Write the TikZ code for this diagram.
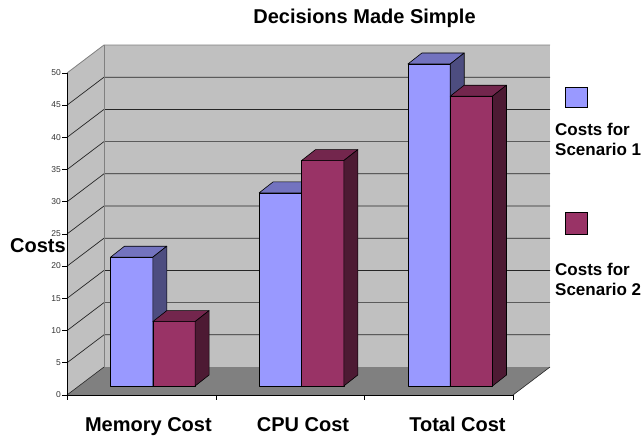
\documentclass[tikz,border=0pt]{standalone}
\usepackage{fontspec}
\setmainfont{Liberation Sans}

\definecolor{wallgray}{HTML}{C0C0C0}
\definecolor{floorgray}{HTML}{808080}
\definecolor{edgegray}{HTML}{808080}
\definecolor{gridcol}{HTML}{262626}
\definecolor{sAfront}{HTML}{9999FF}
\definecolor{sAtop}{HTML}{7373BF}
\definecolor{sAside}{HTML}{4D4D80}
\definecolor{sBfront}{HTML}{993366}
\definecolor{sBtop}{HTML}{73264D}
\definecolor{sBside}{HTML}{4D1A33}

% one 3-D column: #1 left x of front face, #2 value, #3 colour prefix
\newcommand\cubebar[3]{%
  \pgfmathsetmacro\bl{#1}%
  \pgfmathsetmacro\br{#1+42.3}%
  \pgfmathsetmacro\bt{386-#2*6.44}%
  \filldraw[barline, fill=#3front] (\bl,386) rectangle (\br,\bt);
  \filldraw[barline, fill=#3top] (\bl,\bt) -- ++(14,-11) -- ++(42.3,0) -- (\br,\bt) -- cycle;
  \filldraw[barline, fill=#3side] (\br,\bt) -- ++(14,-11) -- (\br+14,375) -- (\br,386) -- cycle;
}

\begin{document}
\begin{tikzpicture}[x=1pt, y=-1pt,
    barline/.style={draw=black, line width=0.6pt, line join=round},
    gridline/.style={draw=gridcol, line width=0.7pt},
    axisline/.style={draw=black, line width=0.8pt},
    ticklab/.style={font=\fontsize{8.5}{10}\selectfont, text=black!80, anchor=mid east, inner sep=0pt},
    catlab/.style={font=\fontsize{20}{24}\selectfont\bfseries, anchor=base, inner sep=0pt},
    leglab/.style={font=\fontsize{17}{20}\selectfont\bfseries, anchor=base west, inner sep=0pt},
    legkey/.style={draw=black, line width=0.6pt}]
\useasboundingbox (0,0) rectangle (642,436);

% title
\node[catlab] (title) at (364.5,24) {Decisions Made Simple};

% walls and floor
\fill[wallgray] (67,73) -- (104,45) -- (104,367) -- (67,395) -- cycle;
\fill[wallgray] (104,45) rectangle (550,367);
\fill[floorgray] (67,395) -- (104,367) -- (550,367) -- (513,395) -- cycle;

% gridlines on side wall and back wall
\foreach \v in {5,10,...,45}{
  \draw[gridline] (67,{395-\v*6.44}) -- ++(37,-28) -- (550,{367-\v*6.44});
}
\draw[edgegray, line width=0.8pt] (67,73) -- (104,45) -- (550,45);
\draw[edgegray, line width=0.8pt] (104,45) -- (104,367);
\draw[gridcol, line width=0.6pt] (67,395) -- (104,367);
\draw[gridcol, line width=0.6pt] (513,395) -- (550,367);

% value axis with ticks and labels
\draw[axisline] (67,73) -- (67,400);
\foreach \v in {0,5,...,50}{
  \draw[axisline] (62,{395-\v*6.44}) -- (67,{395-\v*6.44});
  \node[ticklab] (tick\v) at (61,{395-\v*6.44}) {\v};
}
% category axis
\draw[axisline] (67,395) -- (513,395);
\foreach \x in {216.7,364.3,513}{
  \draw[axisline] (\x,395) -- (\x,400);
}

% columns
\foreach \i/\a/\b in {0/20/10, 1/30/35, 2/50/45}{
  \pgfmathsetmacro\cx{110.5+\i*148.7}
  \cubebar{\cx}{\a}{sA}
  \cubebar{\cx+42.3}{\b}{sB}
}

% axis titles and category names
\node[catlab, anchor=base west] (ytitle) at (10,252.3) {Costs};
\node[catlab] (cat1) at (148.4,431) {Memory Cost};
\node[catlab] (cat2) at (303,431) {CPU Cost};
\node[catlab] (cat3) at (457.5,431) {Total Cost};

% legend
\draw[legkey, fill=sAfront] (565,87) rectangle (587,107);
\node[leglab] (leg1a) at (555,135) {Costs for};
\node[leglab] (leg1b) at (555,155) {Scenario 1};
\draw[legkey, fill=sBfront] (565,212) rectangle (587,234);
\node[leglab] (leg2a) at (555,275) {Costs for};
\node[leglab] (leg2b) at (555,295) {Scenario 2};
\end{tikzpicture}
\end{document}
